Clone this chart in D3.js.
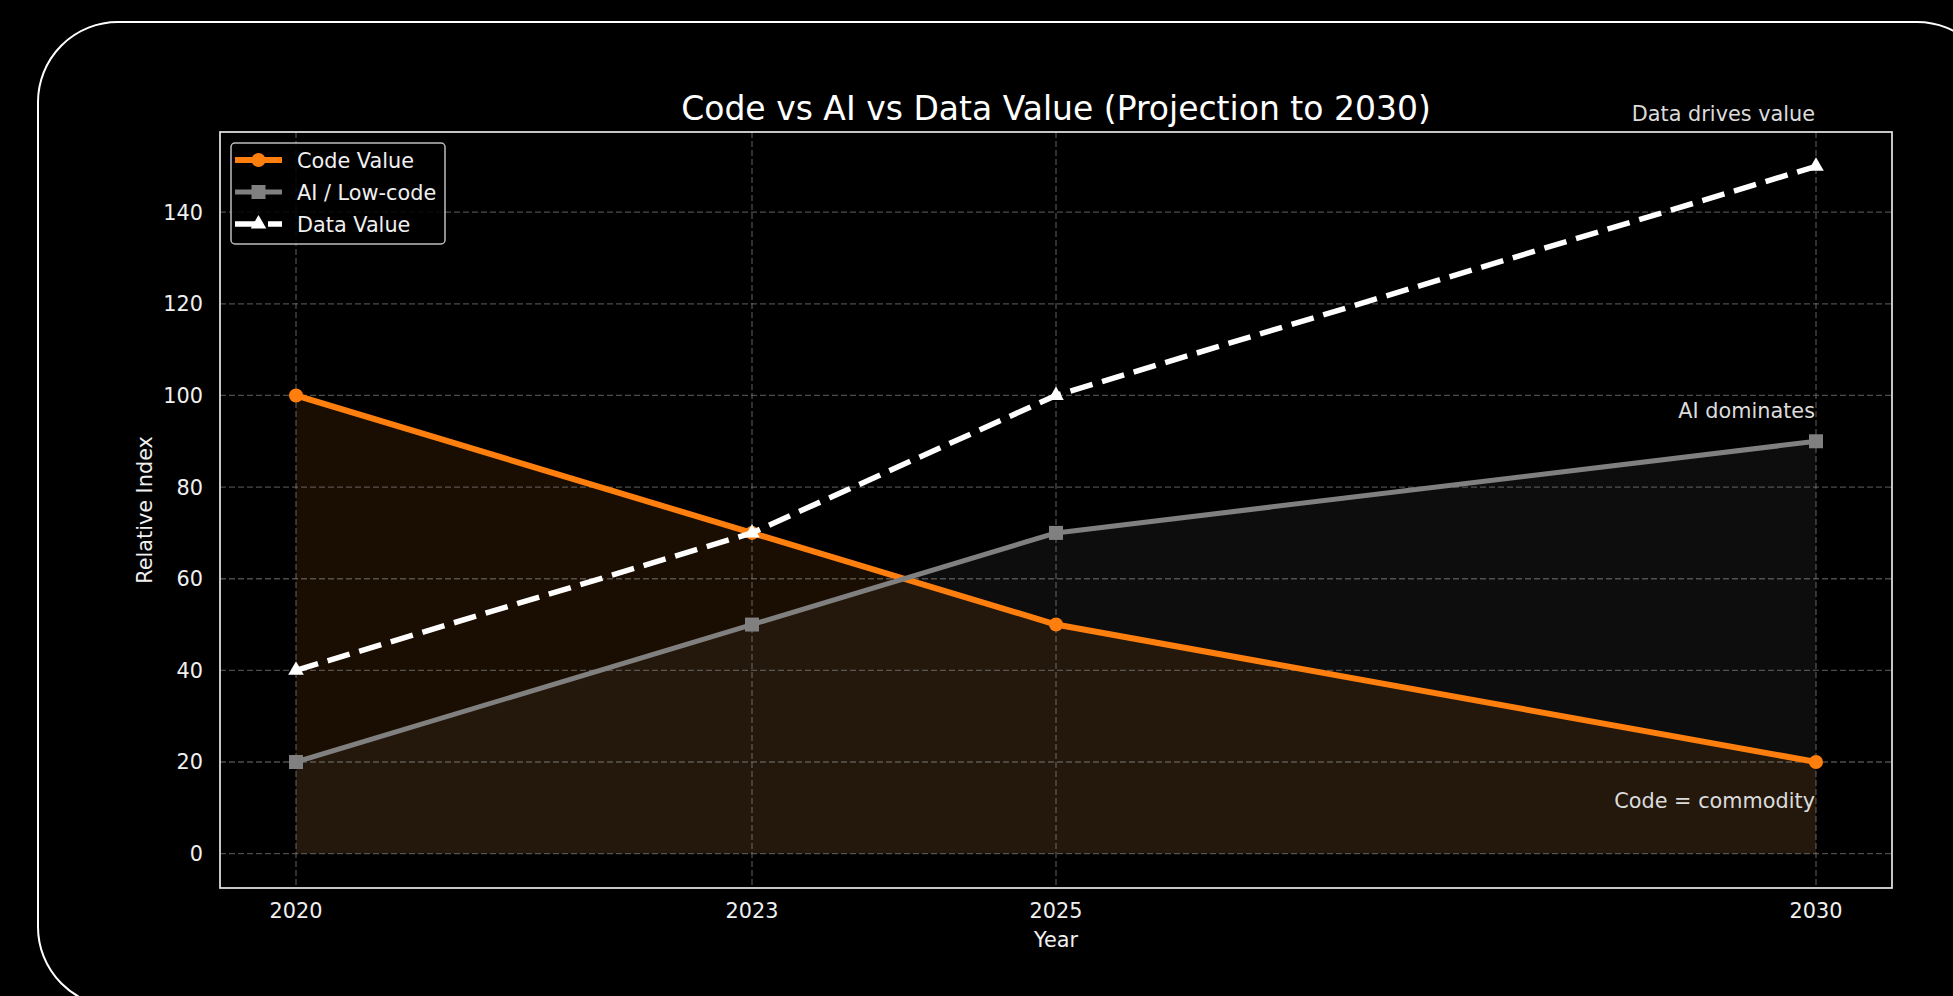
<!DOCTYPE html>
<html>
<head>
<meta charset="utf-8">
<script src="https://cdn.jsdelivr.net/npm/d3@7"></script>
<style>
  body { margin: 0; background: #000; overflow: hidden; }
  svg { display: block; }
  text { font-family: "DejaVu Sans", sans-serif; }
</style>
</head>
<body>
<svg id="chart" width="1953" height="996"></svg>
<script>
const years = [2020, 2023, 2025, 2030];
const codeValue = [100, 70, 50, 20];
const aiValue = [20, 50, 70, 90];
const dataValue = [40, 70, 100, 150];
const yTicks = [0, 20, 40, 60, 80, 100, 120, 140];
const noteTexts = ['Data drives value', 'AI dominates', 'Code = commodity'];
const noteValues = [160, 95, 10];

const W = 1953, H = 996;
const m = { left: 220, right: 1892, top: 132, bottom: 888 };
const fs = 20.8;

const svg = d3.select('#chart');

// card outline
svg.append('rect')
  .attr('x', 38).attr('y', 22)
  .attr('width', 1959).attr('height', 985)
  .attr('rx', 80).attr('ry', 80)
  .attr('fill', 'none')
  .attr('stroke', '#fff')
  .attr('stroke-width', 2);

const x = d3.scaleLinear().domain([2019.5, 2030.5]).range([m.left, m.right]);
const y = d3.scaleLinear().domain([-7.5, 157.5]).range([m.bottom, m.top]);

const series = [
  { name: 'Code Value', values: codeValue, color: '#ff7f0e', width: 6, dash: null, marker: 'circle' },
  { name: 'AI / Low-code', values: aiValue, color: '#808080', width: 5, dash: null, marker: 'square' },
  { name: 'Data Value', values: dataValue, color: '#ffffff', width: 5.5, dash: '23,10', marker: 'triangle' }
];

// fills under code and AI
const area = d3.area()
  .x((_, i) => x(years[i]))
  .y0(y(0))
  .y1(d => y(d));

svg.append('path').attr('d', area(codeValue))
  .attr('fill', '#ff7f0e').attr('fill-opacity', 0.1);
svg.append('path').attr('d', area(aiValue))
  .attr('fill', '#808080').attr('fill-opacity', 0.1);

// grid
const grid = svg.append('g')
  .attr('stroke', '#8a8a8a')
  .attr('stroke-opacity', 0.55)
  .attr('stroke-width', 1.3)
  .attr('stroke-dasharray', '6,3');

grid.selectAll('line.h')
  .data(yTicks)
  .join('line')
  .attr('class', 'h')
  .attr('x1', m.left).attr('x2', m.right)
  .attr('y1', d => y(d)).attr('y2', d => y(d));

grid.selectAll('line.v')
  .data(years)
  .join('line')
  .attr('class', 'v')
  .attr('y1', m.top).attr('y2', m.bottom)
  .attr('x1', d => x(d)).attr('x2', d => x(d));

// lines
const line = d3.line()
  .x((_, i) => x(years[i]))
  .y(d => y(d));

const marker = (g, type, color) => {
  if (type === 'circle') {
    return g.append('circle').attr('r', 7).attr('fill', color);
  }
  if (type === 'square') {
    return g.append('rect').attr('x', -7).attr('y', -7)
      .attr('width', 14).attr('height', 14).attr('fill', color);
  }
  return g.append('path')
    .attr('d', d3.symbol(d3.symbolTriangle, 105)())
    .attr('fill', color);
};

series.forEach(s => {
  svg.append('path')
    .attr('d', line(s.values))
    .attr('fill', 'none')
    .attr('stroke', s.color)
    .attr('stroke-width', s.width)
    .attr('stroke-linejoin', 'round')
    .attr('stroke-linecap', s.dash ? 'butt' : 'square')
    .attr('stroke-dasharray', s.dash);

  s.values.forEach((v, i) => {
    const g = svg.append('g').attr('transform', `translate(${x(years[i])},${y(v)})`);
    marker(g, s.marker, s.color);
  });
});

// frame
svg.append('rect')
  .attr('x', m.left).attr('y', m.top)
  .attr('width', m.right - m.left).attr('height', m.bottom - m.top)
  .attr('fill', 'none')
  .attr('stroke', '#e8e8e8')
  .attr('stroke-width', 1.7);

// tick labels
svg.append('g')
  .selectAll('text')
  .data(yTicks)
  .join('text')
  .attr('x', m.left - 17)
  .attr('y', d => y(d))
  .attr('dy', '0.36em')
  .attr('text-anchor', 'end')
  .attr('font-size', fs)
  .attr('fill', '#f0f0f0')
  .text(d => d);

svg.append('g')
  .selectAll('text')
  .data(years)
  .join('text')
  .attr('x', d => x(d))
  .attr('y', m.bottom + 30)
  .attr('text-anchor', 'middle')
  .attr('font-size', fs)
  .attr('fill', '#f0f0f0')
  .text(d => d);

// axis labels and title
svg.append('text')
  .attr('x', (m.left + m.right) / 2).attr('y', 947)
  .attr('text-anchor', 'middle')
  .attr('font-size', fs).attr('fill', '#f0f0f0')
  .text('Year');

svg.append('text')
  .attr('transform', `translate(152,${(m.top + m.bottom) / 2}) rotate(-90)`)
  .attr('text-anchor', 'middle')
  .attr('font-size', fs).attr('fill', '#f0f0f0')
  .text('Relative Index');

svg.append('text')
  .attr('x', (m.left + m.right) / 2).attr('y', 120)
  .attr('text-anchor', 'middle')
  .attr('font-size', 33).attr('fill', '#fff')
  .text('Code vs AI vs Data Value (Projection to 2030)');

// annotations
svg.append('g')
  .selectAll('text')
  .data(noteTexts)
  .join('text')
  .attr('x', x(2030) - 1)
  .attr('y', (_, i) => y(noteValues[i]))
  .attr('text-anchor', 'end')
  .attr('font-size', fs)
  .attr('fill', '#dcdcdc')
  .text(d => d);

// legend
const legend = svg.append('g').attr('transform', 'translate(231,143)');
legend.append('rect')
  .attr('width', 214).attr('height', 101)
  .attr('rx', 4)
  .attr('fill', '#000').attr('fill-opacity', 0.85)
  .attr('stroke', '#bdbdbd').attr('stroke-width', 1.5);

series.forEach((s, i) => {
  const cy = 17 + i * 32;
  legend.append('line')
    .attr('x1', 4).attr('x2', 51)
    .attr('y1', cy).attr('y2', cy)
    .attr('stroke', s.color)
    .attr('stroke-width', s.width)
    .attr('stroke-dasharray', s.dash);
  const g = legend.append('g').attr('transform', `translate(27.5,${cy})`);
  marker(g, s.marker, s.color);
  legend.append('text')
    .attr('x', 66).attr('y', cy + 7.5)
    .attr('font-size', fs)
    .attr('fill', '#f0f0f0')
    .text(s.name);
});
</script>
</body>
</html>
